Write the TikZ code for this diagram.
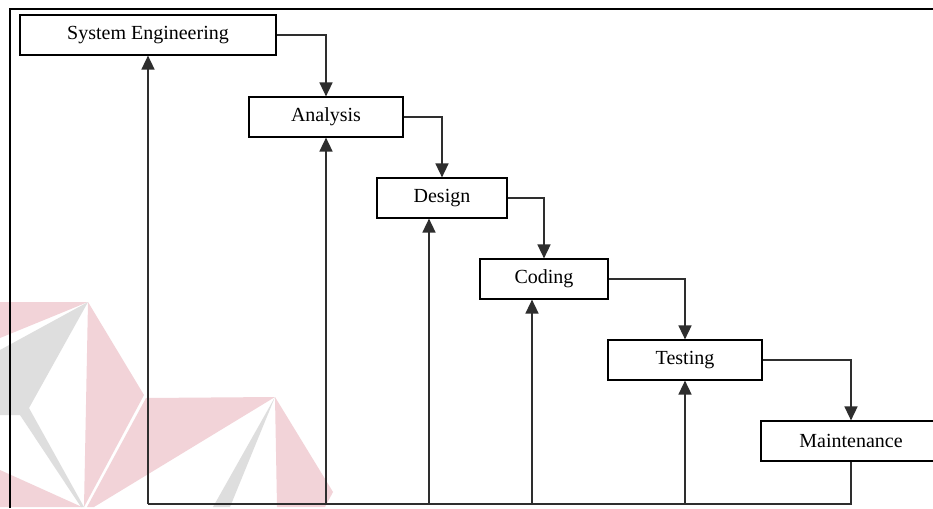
\documentclass[tikz,border=0pt]{standalone}
\usepackage{fontspec}
\setmainfont{Liberation Serif}
\usetikzlibrary{arrows.meta}
\definecolor{wmpink}{HTML}{F2D3D8}
\definecolor{wmgray}{HTML}{DEDEDE}
\definecolor{lnc}{HTML}{2E2E2E}
\tikzset{
  phase/.style={draw=black, line width=1.2pt, rectangle, minimum height=40pt, inner sep=0pt, font=\fontsize{20pt}{24pt}\selectfont, text=black},
  flow/.style={draw=lnc, line width=1.6pt, -{Triangle[width=13pt,length=14pt]}},
  plain/.style={draw=lnc, line width=1.6pt},
  frameline/.style={draw=black, line width=1.6pt}
}
\begin{document}
\begin{tikzpicture}[x=1pt,y=-1pt]
\clip (0,0) rectangle (933,508);
\fill[white] (0,0) rectangle (933,508);
% watermark
\fill[wmpink] (0,302) -- (88,302) -- (0,338) -- cycle;
\fill[wmgray] (88,302) -- (0,350) -- (0,415) -- (20,415) -- (81,507) -- (84,507) -- (29,408) -- cycle;
\fill[wmpink] (88,302) -- (144,395) -- (84,507) -- cycle;
\fill[wmpink] (0,470) -- (82,507) -- (0,507) -- cycle;
\fill[wmpink] (87,507) -- (146,398) -- (275,397) -- (94,507) -- cycle;
\fill[wmgray] (275,397) -- (213,507) -- (230,507) -- cycle;
\fill[wmpink] (275,397) -- (333,492) -- (325,507) -- (277,507) -- cycle;
% frame
\draw[frameline] (10,508) -- (10,9) -- (933,9);
% phases
\node[phase, minimum width=256pt] (se) at (148,35) {System Engineering};
\node[phase, minimum width=154pt] (an) at (326,117) {Analysis};
\node[phase, minimum width=130pt] (de) at (442,198) {Design};
\node[phase, minimum width=128pt] (co) at (544,279) {Coding};
\node[phase, minimum width=154pt] (te) at (685,360) {Testing};
\node[phase, minimum width=180pt] (ma) at (851,441) {Maintenance};
% forward flow
\draw[flow] (se.east) -| (an.north);
\draw[flow] (an.east) -| (de.north);
\draw[flow] (de.east) -| (co.north);
\draw[flow] (co.east) -| (te.north);
\draw[flow] (te.east) -| (ma.north);
% feedback
\coordinate (f1) at (148,504);
\coordinate (f2) at (326,504);
\coordinate (f3) at (429,504);
\coordinate (f4) at (532,504);
\coordinate (f5) at (685,504);
\coordinate (fr) at (851,504);
\draw[plain] (ma.south) -- (fr) -- (f1);
\draw[flow] (f1) -- (se.south);
\draw[flow] (f2) -- (an.south);
\draw[flow] (f3) -- (f3 |- de.south);
\draw[flow] (f4) -- (f4 |- co.south);
\draw[flow] (f5) -- (te.south);
\end{tikzpicture}
\end{document}
